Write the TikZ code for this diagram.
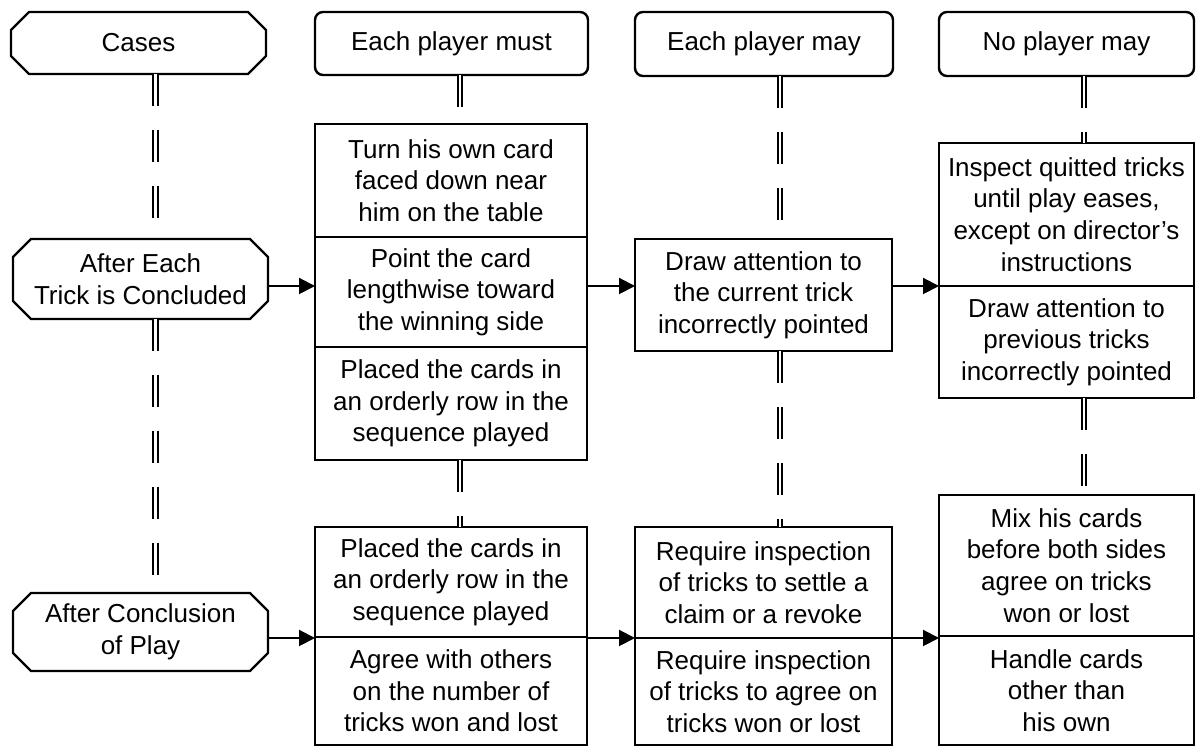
\documentclass[tikz,border=0pt]{standalone}
\usepackage{fontspec}
\setmainfont{Liberation Sans}
\usetikzlibrary{arrows.meta,calc}
\begin{document}
\begin{tikzpicture}[x=0.5pt,y=-0.5pt,
  every node/.style={font=\fontsize{13}{15.8}\selectfont, align=center, inner sep=0pt, outer sep=0pt},
  boxline/.style={line width=1.2pt, line join=miter},
  stackbox/.style={draw, boxline, rectangle},
  headbox/.style={draw, boxline, rectangle, rounded corners=4pt},
  octbox/.style={rectangle},
  dline/.style={draw, line width=1pt, double distance=1.4pt, dash pattern=on 16pt off 12pt},
  arr/.style={line width=1pt, -{Triangle[length=8pt,width=8pt]}}
]
\useasboundingbox[fill=white] (0,0) rectangle (1196,747);
\newcommand\octo[1]{\draw[boxline] ([xshift=9pt]#1.north west) -- ([xshift=-9pt]#1.north east) -- ([yshift=-9pt]#1.north east) -- ([yshift=9pt]#1.south east) -- ([xshift=-9pt]#1.south east) -- ([xshift=9pt]#1.south west) -- ([yshift=9pt]#1.south west) -- ([yshift=-9pt]#1.north west) -- cycle;}

% column line positions and arrow rows
\coordinate (x1) at (155.5,0);
\coordinate (x2) at (460,0);
\coordinate (x3) at (780,0);
\coordinate (x4) at (1084,0);
\coordinate (r1) at (0,286);
\coordinate (r2) at (0,638);

% column 1
\node[octbox, minimum width=127.5pt, minimum height=31pt] (Cases) at (138.5,43) {Cases};
\node[octbox, minimum width=127.5pt, minimum height=40pt] (AE) at (140.5,279) {After Each\\Trick is Concluded};
\node[octbox, minimum width=127.5pt, minimum height=39pt] (AC) at (140.5,632) {After Conclusion\\of Play};
\octo{Cases}
\octo{AE}
\octo{AC}

% headers
\node[headbox, minimum width=136.5pt, minimum height=31.5pt] (H2) at (451.5,43.5) {Each player must};
\node[headbox, minimum width=129pt, minimum height=32pt] (H3) at (764,44) {Each player may};
\node[headbox, minimum width=127.5pt, minimum height=32pt] (H4) at (1066.5,44) {No player may};

% column 2
\node[stackbox, minimum width=136pt, minimum height=56.5pt] (T2) at (451,180.5) {Turn his own card\\faced down near\\him on the table};
\node[stackbox, minimum width=136pt, minimum height=55pt] (P2) at (451,292) {Point the card\\lengthwise toward\\the winning side};
\node[stackbox, minimum width=136pt, minimum height=56.5pt] (L2) at (451,403.5) {Placed the cards in\\an orderly row in the\\sequence played};
\node[stackbox, minimum width=136pt, minimum height=55pt] (B2a) at (451,582) {Placed the cards in\\an orderly row in the\\sequence played};
\node[stackbox, minimum width=136pt, minimum height=54pt] (B2b) at (451,691) {Agree with others\\on the number of\\tricks won and lost};

% column 3
\node[stackbox, minimum width=128.5pt, minimum height=56pt] (D3) at (763.5,295) {Draw attention to\\the current trick\\incorrectly pointed};
\node[stackbox, minimum width=128.5pt, minimum height=55.5pt] (B3a) at (763.5,582.5) {Require inspection\\of tricks to settle a\\claim or a revoke};
\node[stackbox, minimum width=128.5pt, minimum height=53.5pt] (B3b) at (763.5,691.5) {Require inspection\\of tricks to agree on\\tricks won or lost};

% column 4
\node[stackbox, minimum width=127.5pt, minimum height=71.5pt] (I4) at (1066.5,214.5) {Inspect quitted tricks\\until play eases,\\except on director’s\\instructions};
\node[stackbox, minimum width=127.5pt, minimum height=56pt] (D4) at (1066.5,342) {Draw attention to\\previous tricks\\incorrectly pointed};
\node[stackbox, minimum width=127.5pt, minimum height=70.5pt] (M4) at (1066.5,565.5) {Mix his cards\\before both sides\\agree on tricks\\won or lost};
\node[stackbox, minimum width=127.5pt, minimum height=54.5pt] (H4b) at (1066.5,690.5) {Handle cards\\other than\\his own};

% double dashed connectors
\draw[dline] (Cases.south -| x1) -- (AE.north -| x1);
\draw[dline] (AE.south -| x1) -- (AC.north -| x1);
\draw[dline] (H2.south -| x2) -- (T2.north -| x2);
\draw[dline] (L2.south -| x2) -- (B2a.north -| x2);
\draw[dline] (H3.south -| x3) -- (D3.north -| x3);
\draw[dline] (D3.south -| x3) -- (B3a.north -| x3);
\draw[dline] (H4.south -| x4) -- (I4.north -| x4);
\draw[dline] (D4.south -| x4) -- (M4.north -| x4);

% arrows
\draw[arr] (AE.east |- r1) -- (T2.west |- r1);
\draw[arr] (P2.east |- r1) -- (D3.west |- r1);
\draw[arr] (D3.east |- r1) -- (I4.west |- r1);
\draw[arr] (AC.east |- r2) -- (B2a.west |- r2);
\draw[arr] (B2a.east |- r2) -- (B3a.west |- r2);
\draw[arr] (B3a.east |- r2) -- (M4.west |- r2);
\end{tikzpicture}
\end{document}
